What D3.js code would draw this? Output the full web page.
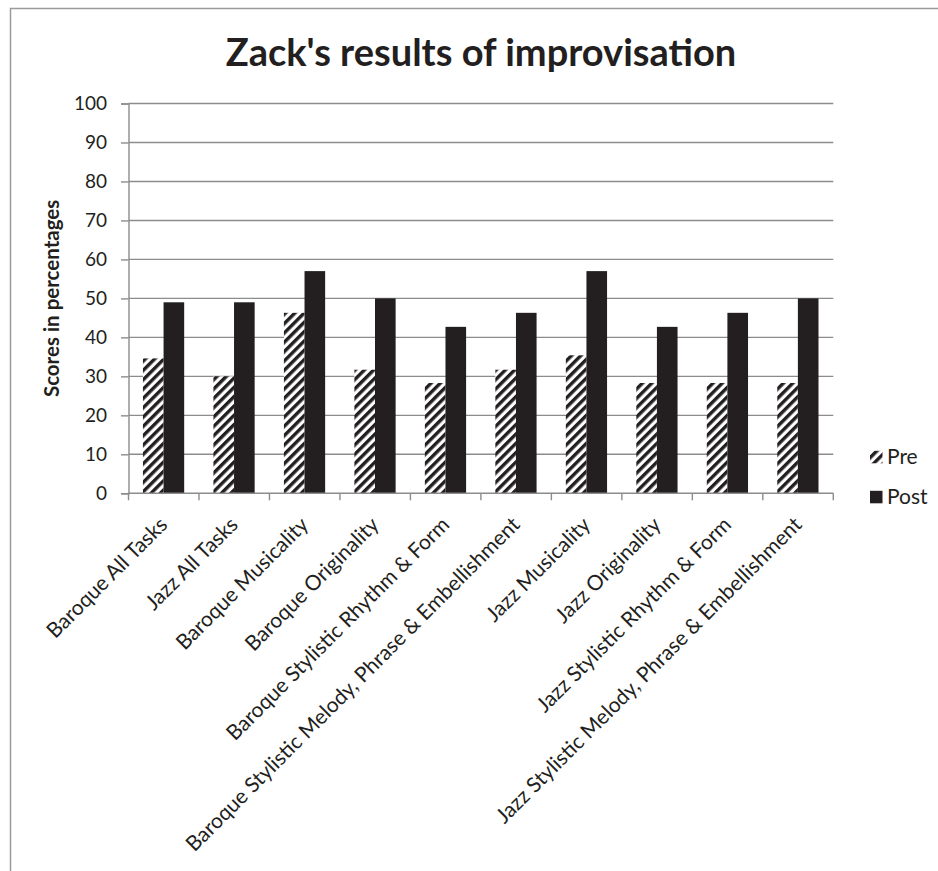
<!DOCTYPE html>
<html>
<head>
<meta charset="utf-8">
<script src="https://cdn.jsdelivr.net/npm/d3@7"></script>
<style>
  html, body { margin: 0; padding: 0; background: #fff; }
  svg { display: block; }
  text { font-family: Lato, "Open Sans", sans-serif; fill: #231f20; }
</style>
</head>
<body>
<script>
// Zack's pre/post improvisation scores (percent)
const categories = [
  "Baroque All Tasks",
  "Jazz All Tasks",
  "Baroque Musicality",
  "Baroque Originality",
  "Baroque Stylistic Rhythm & Form",
  "Baroque Stylistic Melody, Phrase & Embellishment",
  "Jazz Musicality",
  "Jazz Originality",
  "Jazz Stylistic Rhythm & Form",
  "Jazz Stylistic Melody, Phrase & Embellishment"
];
const seriesNames = ["Pre", "Post"];
const preValues  = [34.6, 30.0, 46.3, 31.7, 28.3, 31.7, 35.4, 28.3, 28.3, 28.3];
const postValues = [49.0, 49.0, 57.0, 50.0, 42.7, 46.3, 57.0, 42.7, 46.3, 50.0];
const yTicks = [0, 10, 20, 30, 40, 50, 60, 70, 80, 90, 100];

const W = 938, H = 871;
const dark = "#231f20";
const gridColor = "#8c8c8c";

const svg = d3.select("body").append("svg").attr("width", W).attr("height", H);

// hatch for the Pre series
const defs = svg.append("defs");
const pat = defs.append("pattern")
  .attr("id", "hatch")
  .attr("patternUnits", "userSpaceOnUse")
  .attr("width", 6.6).attr("height", 6.6)
  .attr("patternTransform", "rotate(45)");
pat.append("rect").attr("width", 6.6).attr("height", 6.6).attr("fill", "#fff");
pat.append("rect").attr("width", 3.4).attr("height", 6.6).attr("fill", dark);

// chart frame
svg.append("rect")
  .attr("x", 10.5).attr("y", 8.5)
  .attr("width", W + 20).attr("height", H + 20)
  .attr("fill", "none").attr("stroke", "#9a9a9a").attr("stroke-width", 1.5);

const plot = { left: 128.5, right: 833.3, top: 103.5, bottom: 493.3 };

const x = d3.scaleBand().domain(categories).range([plot.left, plot.right]).padding(0);
const bw = x.bandwidth();
const xs = d3.scaleBand().domain(seriesNames).range([bw * 0.205, bw * 0.79]).padding(0);
const y = d3.scaleLinear().domain([0, 100]).range([plot.bottom, plot.top]);

// horizontal gridlines
svg.append("g").selectAll("line")
  .data(yTicks.filter(d => d > 0))
  .join("line")
  .attr("x1", plot.left).attr("x2", plot.right)
  .attr("y1", d => y(d)).attr("y2", d => y(d))
  .attr("stroke", gridColor).attr("stroke-width", 1.4);

// y axis
const yAxis = svg.append("g")
  .attr("transform", `translate(${plot.left},0)`)
  .call(d3.axisLeft(y).tickValues(yTicks).tickSize(7.5).tickPadding(14));
yAxis.select(".domain").attr("stroke", gridColor).attr("stroke-width", 1.4);
yAxis.selectAll(".tick line").attr("stroke", gridColor).attr("stroke-width", 1.4);
yAxis.selectAll(".tick text")
  .attr("font-family", "Lato, sans-serif").attr("font-size", 19)
  .attr("fill", dark);

// bars
const rows = categories.map((c, i) => ({ c, Pre: preValues[i], Post: postValues[i] }));
const groups = svg.append("g").selectAll("g")
  .data(rows).join("g")
  .attr("transform", d => `translate(${x(d.c)},0)`);
groups.selectAll("rect")
  .data(d => seriesNames.map(k => ({ k, v: d[k] })))
  .join("rect")
  .attr("x", d => xs(d.k))
  .attr("width", xs.bandwidth())
  .attr("y", d => y(d.v))
  .attr("height", d => y(0) - y(d.v))
  .attr("fill", d => d.k === "Pre" ? "url(#hatch)" : dark);

// x axis: baseline and category boundary ticks
svg.append("line")
  .attr("x1", plot.left).attr("x2", plot.right)
  .attr("y1", plot.bottom).attr("y2", plot.bottom)
  .attr("stroke", gridColor).attr("stroke-width", 1.4);
const bounds = categories.map(c => x(c)).concat([plot.right]);
svg.append("g").selectAll("line")
  .data(bounds).join("line")
  .attr("x1", d => d).attr("x2", d => d)
  .attr("y1", plot.bottom).attr("y2", plot.bottom + 7)
  .attr("stroke", gridColor).attr("stroke-width", 1.4);

// rotated category labels
svg.append("g").selectAll("text")
  .data(categories).join("text")
  .attr("transform", d => `translate(${x(d) + bw / 2 + 5},526) rotate(-45)`)
  .attr("text-anchor", "end")
  .attr("font-size", 21)
  .text(d => d);

// title
svg.append("text")
  .attr("x", 481).attr("y", 66)
  .attr("text-anchor", "middle")
  .attr("font-weight", 700)
  .attr("font-size", 38)
  .text("Zack's results of improvisation");

// y axis title
svg.append("text")
  .attr("transform", `translate(59,${(plot.top + plot.bottom) / 2}) rotate(-90)`)
  .attr("text-anchor", "middle")
  .attr("font-weight", 700)
  .attr("font-size", 20.5)
  .text("Scores in percentages");

// legend
const legend = svg.append("g");
const legendRows = [
  { k: "Pre", y: 457 },
  { k: "Post", y: 497 }
];
legend.selectAll("rect")
  .data(legendRows).join("rect")
  .attr("x", 870).attr("y", d => d.y - 6.2)
  .attr("width", 12.5).attr("height", 12.5)
  .attr("fill", d => d.k === "Pre" ? "url(#hatch)" : dark);
legend.selectAll("text")
  .data(legendRows).join("text")
  .attr("x", 887).attr("y", d => d.y)
  .attr("dy", "0.35em")
  .attr("font-size", 21)
  .text(d => d.k);
</script>
</body>
</html>
